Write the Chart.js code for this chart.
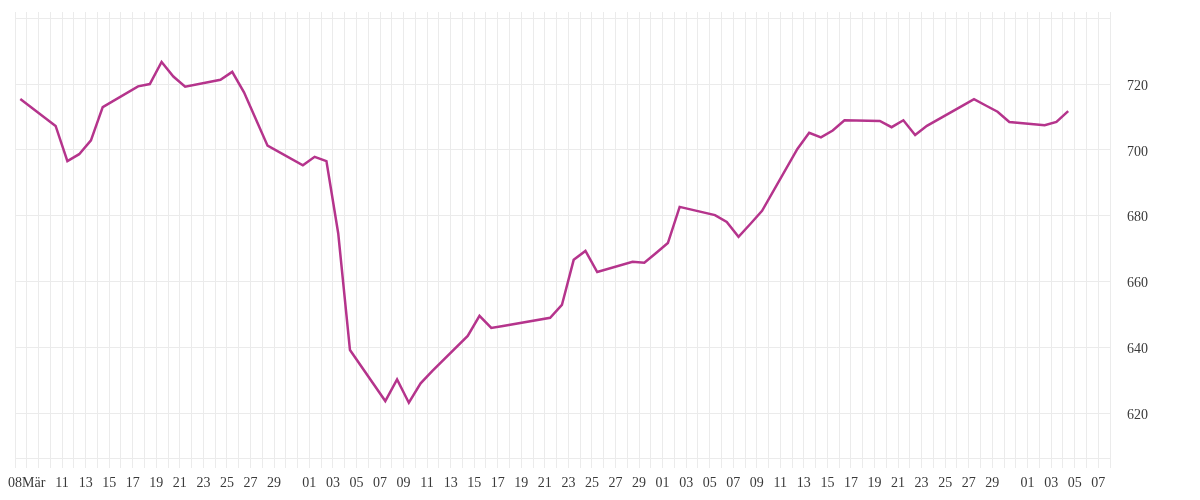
<!DOCTYPE html>
<html>
<head>
<meta charset="utf-8">
<script src="https://cdn.jsdelivr.net/npm/chart.js@4.4.1/dist/chart.umd.min.js"></script>
<style>
  html, body { margin: 0; padding: 0; background: #fff; }
  #chart { display: block; }
</style>
</head>
<body>
<canvas id="chart" width="1200" height="500"></canvas>
<script>
// Handelstage 2025 und Schlusswerte
const dates = [
  '2025-03-07', '2025-03-10', '2025-03-11', '2025-03-12', '2025-03-13', '2025-03-14',
  '2025-03-17', '2025-03-18', '2025-03-19', '2025-03-20', '2025-03-21',
  '2025-03-24', '2025-03-25', '2025-03-26', '2025-03-27', '2025-03-28',
  '2025-03-31', '2025-04-01', '2025-04-02', '2025-04-03', '2025-04-04',
  '2025-04-07', '2025-04-08', '2025-04-09', '2025-04-10', '2025-04-11',
  '2025-04-14', '2025-04-15', '2025-04-16', '2025-04-17',
  '2025-04-21', '2025-04-22', '2025-04-23', '2025-04-24', '2025-04-25',
  '2025-04-28', '2025-04-29', '2025-04-30', '2025-05-01', '2025-05-02',
  '2025-05-05', '2025-05-06', '2025-05-07', '2025-05-08', '2025-05-09',
  '2025-05-12', '2025-05-13', '2025-05-14', '2025-05-15', '2025-05-16',
  '2025-05-19', '2025-05-20', '2025-05-21', '2025-05-22', '2025-05-23',
  '2025-05-26', '2025-05-27', '2025-05-28', '2025-05-29', '2025-05-30',
  '2025-06-02', '2025-06-03', '2025-06-04'
];
const values = [
  715.5, 707.3, 696.6, 698.7, 702.9, 713.0,
  719.3, 720.0, 726.7, 722.3, 719.2,
  721.3, 723.7, 717.5, 709.4, 701.3,
  695.3, 697.9, 696.6, 674.7, 639.2,
  623.7, 630.3, 623.2, 629.1, 632.9,
  643.5, 649.6, 645.9, 646.5,
  649.0, 652.9, 666.6, 669.3, 662.9,
  666.0, 665.7, 668.7, 671.7, 682.7,
  680.2, 678.1, 673.6, 677.5, 681.5,
  700.3, 705.2, 703.8, 705.9, 709.0,
  708.8, 706.9, 709.0, 704.5, 707.3,
  713.4, 715.4, 713.5, 711.6, 708.5,
  707.5, 708.5, 711.8
];

const axisStart = '2025-03-07';   // erster Tag der x-Achse
const axisDays = 93;              // bis 08. Juni
const stampTime = 0.45;           // Tageszeit der Kurse (Anteil eines Tages)
const yTicks = [620, 640, 660, 680, 700, 720, 740];
const yMin = 606.4;
const yMax = 741.9;
const monthNames = ['Jan', 'Feb', 'Mär', 'Apr', 'Mai', 'Jun'];

const lineColor = '#b5348c';
const gridColor = '#ebebeb';
const textColor = '#3a3a3a';
const font = { family: '"Liberation Serif", "Times New Roman", serif', size: 14 };

const dayMs = 864e5;
const start = Date.parse(axisStart);

const points = dates.map((d, i) => ({
  x: (Date.parse(d) - start) / dayMs + stampTime,
  y: values[i]
}));

// Beschriftung: erster Tag mit Monat, danach jeder ungerade Tag bis 29
function dayLabel(d) {
  const t = new Date(start + d * dayMs);
  const day = t.getUTCDate();
  const dd = String(day).padStart(2, '0');
  if (d === 1) return dd + monthNames[t.getUTCMonth()];
  if (d < 4 || day % 2 === 0 || day > 29) return '';
  return dd;
}

new Chart(document.getElementById('chart'), {
  type: 'line',
  data: {
    datasets: [{
      data: points,
      borderColor: lineColor,
      borderWidth: 2.5,
      pointRadius: 0,
      tension: 0,
      fill: false
    }]
  },
  options: {
    responsive: false,
    animation: false,
    layout: { padding: { left: 15, top: 12, right: 0, bottom: 0 } },
    plugins: {
      legend: { display: false },
      tooltip: { enabled: false }
    },
    scales: {
      x: {
        type: 'linear',
        min: 0,
        max: axisDays,
        afterBuildTicks: s => {
          s.ticks = Array.from({ length: axisDays + 1 }, (_, i) => ({ value: i }));
        },
        afterFit: s => {
          s.height = 42;
          s.paddingLeft = 0;
          s.paddingRight = 0;
        },
        grid: { color: gridColor, tickLength: 10 },
        border: { color: gridColor },
        ticks: {
          autoSkip: false,
          maxRotation: 0,
          padding: 7,
          color: textColor,
          font: font,
          callback: v => dayLabel(v)
        }
      },
      y: {
        position: 'right',
        min: yMin,
        max: yMax,
        afterBuildTicks: s => {
          s.ticks = yTicks.map(v => ({ value: v }));
        },
        afterFit: s => {
          s.width = 90;
          s.paddingTop = 0;
          s.paddingBottom = 0;
        },
        grid: { color: gridColor, drawTicks: false },
        border: { display: false },
        ticks: {
          padding: 17,
          labelOffset: 2,
          color: textColor,
          font: font,
          callback: v => (v === 740 ? '' : v)
        }
      }
    }
  }
});
</script>
</body>
</html>
